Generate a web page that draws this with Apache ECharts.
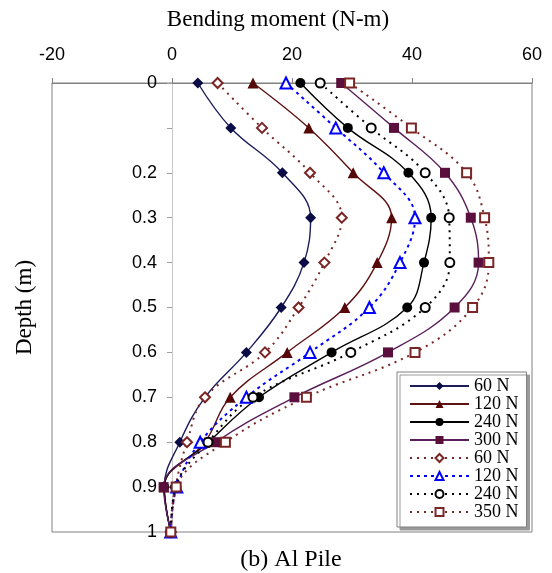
<!DOCTYPE html>
<html>
<head>
<meta charset="utf-8">
<script src="https://cdn.jsdelivr.net/npm/echarts@6/dist/echarts.min.js"></script>
<style>html,body{margin:0;padding:0;background:#fff}#c{width:552px;height:573px}</style>
</head>
<body>
<div id="c"></div>
<script>
// Depth (m) of each measurement point
var depths = [0, 0.1, 0.2, 0.3, 0.4, 0.5, 0.6, 0.7, 0.8, 0.9, 1.0];
// Bending moment (N-m), solid series
var m60  = [4.3, 9.8, 18.4, 23.1, 22.0, 18.2, 12.4, 5.5, 1.3, -1.3, -0.2];
var m120 = [13.5, 22.8, 30.2, 36.6, 34.2, 28.8, 19.2, 9.7, 5.5, -1.3, -0.2];
var m240 = [21.4, 29.3, 39.4, 43.2, 42.0, 39.2, 26.6, 14.5, 6.1, -1.3, -0.2];
var m300 = [28.2, 37.0, 45.5, 49.8, 51.1, 47.1, 36.0, 20.4, 7.3, -1.4, -0.2];
// Bending moment (N-m), dotted series
var e60  = [7.6, 15.0, 23.0, 28.3, 25.4, 21.1, 15.5, 5.5, 2.5, 0.6, -0.2];
var e120 = [19.0, 27.3, 35.3, 40.5, 38.0, 32.9, 23.0, 12.4, 4.7, 0.8, -0.2];
var e240 = [24.7, 33.2, 42.2, 46.2, 46.3, 42.2, 29.8, 13.5, 6.0, 0.6, -0.2];
var e350 = [29.6, 39.9, 49.1, 52.1, 52.8, 50.1, 40.5, 22.4, 8.9, 0.7, -0.2];
var seriesNames = ['60 N', '120 N', '240 N', '300 N', '60 N ', '120 N ', '240 N ', '350 N '];
// Tick labels
var yTickLabels = ['0', '', '0.2', '0.3', '0.4', '0.5', '0.6', '0.7', '0.8', '0.9', '1'];
var xTickLabels = ['-20', '0', '20', '40', '60'];

function pairs(vals) { return vals.map(function (v, i) { return [v, depths[i]]; }); }

var serif = "'Liberation Serif','Times New Roman',serif";
var sans = "'Liberation Sans',Arial,sans-serif";
var gridLeft = 52;

function mk(name, vals, color, lineColor, symbol, size, dashed, dash) {
  return {
    name: name, type: 'line', data: pairs(vals), smooth: 0.4,
    symbol: symbol, symbolSize: size, showSymbol: true,
    itemStyle: { color: color, borderColor: color, borderWidth: symbol.indexOf('empty') === 0 ? 1.6 : 0 },
    lineStyle: { color: lineColor, width: dashed ? 2 : 1.4, type: dashed ? dash : 'solid' },
    emphasis: { disabled: true }, animation: false
  };
}

var chart = echarts.init(document.getElementById('c'));
chart.setOption({
  backgroundColor: '#fff',
  animation: false,
  title: {
    text: '(b) Al Pile', left: 286, top: 543, textAlign: 'center',
    textStyle: { fontFamily: serif, fontSize: 24, fontWeight: 'normal', color: '#000' }
  },
  grid: { left: gridLeft, right: 20, top: 83, bottom: 41, show: true, borderColor: '#808080', borderWidth: 1,
          containLabel: false, outerBoundsMode: 'none' },
  legend: {
    orient: 'vertical', left: 397, top: 372,
    padding: [5, 8, 6, 12], itemGap: 0, itemWidth: 59, itemHeight: 10,
    backgroundColor: '#fff', borderColor: '#808080', borderWidth: 1,
    shadowColor: '#9a9a9a', shadowOffsetX: 3, shadowOffsetY: 3, shadowBlur: 0,
    formatter: function (n) { return n.trim(); },
    textStyle: { fontFamily: serif, fontSize: 18, lineHeight: 18, color: '#000' },
    data: seriesNames
  },
  xAxis: {
    type: 'value', position: 'top', min: -20, max: 60, interval: 20,
    name: 'Bending moment (N-m)', nameLocation: 'middle', nameGap: 52,
    nameTextStyle: { fontFamily: serif, fontSize: 23, color: '#000', padding: [0, 28, 0, 0] },
    axisLine: { show: true, onZero: false, lineStyle: { color: '#808080', width: 1 } },
    axisTick: { show: true, inside: false, length: 5, lineStyle: { color: '#808080' } },
    axisLabel: {
      margin: 19, fontFamily: sans, fontSize: 18, color: '#000',
      formatter: function (v) { return xTickLabels[Math.round((v + 20) / 20)]; }
    },
    splitLine: { show: false }
  },
  yAxis: {
    type: 'value', inverse: true, min: 0, max: 1, interval: 0.1, position: 'left', offset: 0,
    name: 'Depth (m)', nameLocation: 'middle', nameGap: 136,
    nameTextStyle: { fontFamily: serif, fontSize: 23, color: '#000' },
    axisLine: { show: true, onZero: false, lineStyle: { color: '#c8c8c8', width: 1 } },
    axisTick: { show: true, length: 5, lineStyle: { color: '#a0a0a0' } },
    axisLabel: {
      margin: 15, fontFamily: sans, fontSize: 18, color: '#000',
      formatter: function (v) { return yTickLabels[Math.round(v * 10)]; }
    },
    splitLine: { show: false }
  },
  series: [
    mk(seriesNames[0], m60, '#0b0b45', '#1c1c5a', 'diamond', 11, false),
    mk(seriesNames[1], m120, '#560808', '#5e1212', 'triangle', 11, false),
    mk(seriesNames[2], m240, '#000000', '#000000', 'circle', 10, false),
    mk(seriesNames[3], m300, '#5a0f3c', '#5a1f5c', 'rect', 10, false),
    mk(seriesNames[4], e60, '#7a2626', '#7a2626', 'emptyDiamond', 10, true, [2, 5]),
    mk(seriesNames[5], e120, '#0000ff', '#0000ff', 'emptyTriangle', 11, true, [3, 4]),
    mk(seriesNames[6], e240, '#000000', '#000000', 'emptyCircle', 9, true, [2, 5]),
    mk(seriesNames[7], e350, '#7a2626', '#7a2626', 'emptyRect', 9, true, [2, 5])
  ]
});
// Place the depth axis where the moment axis crosses zero (as in the original chart)
var zeroPx = chart.convertToPixel({ xAxisIndex: 0 }, 0);
chart.setOption({ yAxis: { offset: -(zeroPx - gridLeft) } });
</script>
</body>
</html>
